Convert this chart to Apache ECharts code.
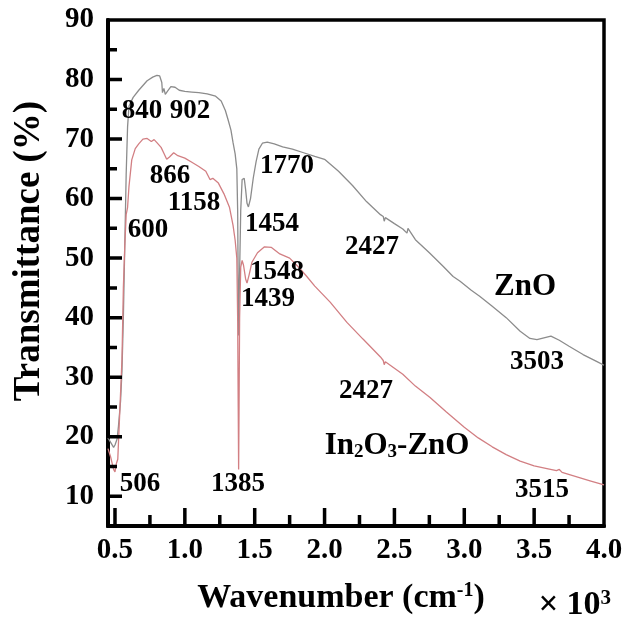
<!DOCTYPE html>
<html><head><meta charset="utf-8">
<script src="https://cdn.jsdelivr.net/npm/echarts@6/dist/echarts.min.js"></script>
<style>html,body{margin:0;padding:0;background:#fff}#c{width:628px;height:620px}</style>
</head><body><div id="c"></div>
<script>
// ---- tick values & labels ----
const xMajorTicks = [0.5, 1.0, 1.5, 2.0, 2.5, 3.0, 3.5, 4.0];
const xTickLabels = ['0.5', '1.0', '1.5', '2.0', '2.5', '3.0', '3.5', '4.0'];
const xMinorTicks = [0.75, 1.25, 1.75, 2.25, 2.75, 3.25, 3.75];
const yMajorTicks = [10, 20, 30, 40, 50, 60, 70, 80];
const yLabelTicks = [10, 20, 30, 40, 50, 60, 70, 80, 90];
const yTickLabels = ['10', '20', '30', '40', '50', '60', '70', '80', '90'];
const yMinorTicks = [15, 25, 35, 45, 55, 65, 75, 85];

// ---- series: [wavenumber (x10^3 cm^-1), transmittance %] ----
const znoData = [
  [0.45, 19.8], [0.47, 19.0], [0.49, 18.2], [0.50, 18.6], [0.515, 19.6], [0.525, 21.8], [0.54, 26],
  [0.55, 31], [0.56, 40], [0.57, 52], [0.58, 64], [0.59, 72], [0.60, 75.5], [0.63, 77], [0.67, 78.2],
  [0.70, 79], [0.73, 79.8], [0.77, 80.4], [0.80, 80.7], [0.82, 80.6], [0.835, 79.5], [0.84, 77.8],
  [0.85, 78.5], [0.86, 77.5], [0.875, 78], [0.90, 78.8], [0.93, 78.7], [0.96, 78.2], [1.0, 78],
  [1.05, 77.9], [1.10, 77.8], [1.16, 77.6], [1.22, 77.2], [1.26, 76.4], [1.29, 74.8], [1.31, 73.2],
  [1.33, 71.5], [1.345, 69.4], [1.36, 67.5], [1.372, 65], [1.378, 58], [1.382, 45], [1.385, 37],
  [1.39, 45], [1.40, 58], [1.41, 63.2], [1.425, 63.4], [1.435, 61.5], [1.445, 59.2], [1.455, 58.6],
  [1.47, 60], [1.49, 63.5], [1.51, 66.2], [1.53, 68.3], [1.555, 69.3], [1.59, 69.5], [1.64, 69.2],
  [1.70, 68.7], [1.77, 68.3], [1.85, 67.7], [1.93, 67.1], [2.0, 66.6], [2.1, 64.6], [2.2, 62.2],
  [2.3, 59.5], [2.4, 57.3], [2.42, 57.0], [2.427, 56.2], [2.435, 56.8], [2.5, 55.8], [2.56, 54.9],
  [2.59, 54.2], [2.597, 55.0], [2.65, 53.1], [2.75, 50.9], [2.85, 48.6], [2.92, 46.9], [2.97, 46.1],
  [3.05, 44.6], [3.11, 43.6], [3.2, 41.9], [3.3, 40.0], [3.4, 37.7], [3.47, 36.5], [3.52, 36.3],
  [3.57, 36.6], [3.62, 36.9], [3.68, 36.2], [3.75, 35.2], [3.85, 33.8], [3.95, 32.6], [4.0, 32.0]
];
const inznoData = [
  [0.45, 18], [0.47, 16.5], [0.49, 14.5], [0.50, 14.1], [0.51, 15.5], [0.52, 16.2], [0.535, 24.6],
  [0.55, 33], [0.56, 45], [0.57, 52], [0.58, 57.3], [0.59, 58.5], [0.60, 62], [0.62, 66.5],
  [0.645, 68.4], [0.67, 69.2], [0.70, 70], [0.73, 70.1], [0.76, 69.6], [0.78, 69.9], [0.80, 69.4],
  [0.83, 68.6], [0.85, 67.6], [0.87, 66.6], [0.89, 67], [0.92, 67.7], [0.95, 67.2], [1.0, 66.8],
  [1.05, 66.1], [1.10, 65.4], [1.15, 64.6], [1.18, 63.2], [1.2, 63.4], [1.24, 62.6], [1.28, 60.8],
  [1.32, 58.5], [1.345, 55.5], [1.36, 53], [1.372, 50], [1.378, 40], [1.382, 25], [1.385, 14.5],
  [1.388, 25], [1.392, 40], [1.40, 48.5], [1.41, 49.6], [1.42, 48.8], [1.435, 46.5], [1.445, 45.8],
  [1.46, 47.2], [1.48, 49.3], [1.52, 50.9], [1.57, 51.9], [1.62, 51.8], [1.68, 50.7], [1.75, 50.0],
  [1.81, 48.6], [1.87, 47], [1.93, 45.3], [2.04, 42.6], [2.16, 39.2], [2.275, 36.4], [2.40, 33.4],
  [2.42, 32.8], [2.427, 32.1], [2.435, 32.6], [2.56, 30.5], [2.65, 28.5], [2.755, 26.6], [2.87, 24.2],
  [3.0, 21.6], [3.1, 19.8], [3.2, 18.3], [3.3, 17.0], [3.4, 15.9], [3.5, 15.1], [3.6, 14.6],
  [3.66, 14.3], [3.68, 14.5], [3.7, 14.0], [3.8, 13.3], [3.9, 12.6], [4.0, 11.9]
];

// ---- peak annotations (text, anchor in data coords) ----
const peakTexts = ['840', '902', '866', '1158', '600', '1770', '1454', '1548', '1439', '506', '1385',
  '2427', '3503', '2427', '3515'];
const peakX = [0.693, 1.037, 0.894, 1.066, 0.736, 1.731, 1.624, 1.66, 1.595, 0.679, 1.381,
  2.34, 3.52, 2.297, 3.557];
const peakY = [74.7, 74.7, 63.8, 59.3, 54.8, 65.5, 55.8, 47.6, 43.2, 12.0, 12.0,
  51.9, 32.5, 27.6, 11.0];
const seriesNames = ['ZnO', 'In2O3-ZnO'];
const seriesLabelX = [3.435, 2.519];
const seriesLabelY = [45.2, 18.4];

const X_MIN = 0.45, X_MAX = 4.0, Y_MIN = 5, Y_MAX = 90;
const W = 628, H = 620;
const GRID = { left: 108, right: 24, top: 20, bottom: 93 };
const FONT = "'Liberation Serif', 'Times New Roman', serif";
const chart = echarts.init(document.getElementById('c'));

// inward tick marks as short line segments through the axes' scales
const xUnitsPerPx = (X_MAX - X_MIN) / (W - GRID.left - GRID.right);
const yUnitsPerPx = (Y_MAX - Y_MIN) / (H - GRID.top - GRID.bottom);
function tickLines(values, isX, lenPx) {
  const d = [];
  values.forEach(v => {
    if (isX) d.push([v, Y_MIN], [v, Y_MIN + lenPx * yUnitsPerPx], [v, '-']);
    else d.push([X_MIN, v], [X_MIN + lenPx * xUnitsPerPx, v], ['-', v]);
  });
  return {
    type: 'line', data: d, symbol: 'none', showSymbol: false, connectNulls: false,
    silent: true, z: 10, clip: false,
    lineStyle: { color: '#000', width: 3.5, cap: 'butt' }
  };
}

const richText = {
  b: { fontFamily: FONT, fontWeight: 'bold', fontSize: 31, fill: '#000', color: '#000' },
  s: { fontFamily: FONT, fontWeight: 'bold', fontSize: 19, fill: '#000', color: '#000', verticalAlign: 'bottom' }
};

function textSeries(texts, xs, ys, fontSize) {
  return {
    type: 'custom', coordinateSystem: 'cartesian2d', silent: true, clip: false, z: 30,
    data: texts.map((t, i) => [xs[i], ys[i], i]),
    encode: { x: 0, y: 1 },
    renderItem: (params, api) => {
      const p = api.coord([api.value(0), api.value(1)]);
      const t = texts[api.value(2)];
      const isRich = t === 'In2O3-ZnO';
      return {
        type: 'text', x: p[0], y: p[1],
        style: {
          text: isRich ? '{b|In}{s|2}{b|O}{s|3}{b|-ZnO}' : t,
          rich: isRich ? richText : undefined,
          fontFamily: FONT, fontWeight: 'bold', fontSize: fontSize,
          fill: '#000', align: 'center', verticalAlign: 'middle'
        }
      };
    }
  };
}

chart.setOption({
  animation: false,
  backgroundColor: '#fff',
  title: {
    text: '{x|×}{n|10}{sup|3}',
    right: 12, top: 583,
    textStyle: {
      rich: {
        x: { fontFamily: FONT, fontWeight: 'bold', fontSize: 35, color: '#000', padding: [0, 8, 0, 0] },
        n: { fontFamily: FONT, fontWeight: 'bold', fontSize: 34, color: '#000' },
        sup: { fontFamily: FONT, fontWeight: 'bold', fontSize: 21, color: '#000', verticalAlign: 'top' }
      }
    }
  },
  graphic: [{
    type: 'text', x: 29, y: 251, rotation: Math.PI / 2, silent: true,
    style: {
      text: 'Transmittance (%)', fontFamily: FONT, fontWeight: 'bold', fontSize: 37,
      fill: '#000', align: 'center', verticalAlign: 'middle'
    }
  }],
  grid: {
    left: GRID.left, right: GRID.right, top: GRID.top, bottom: GRID.bottom,
    show: true, borderColor: '#000', borderWidth: 3.5
  },
  xAxis: {
    type: 'value', min: X_MIN, max: X_MAX, position: 'bottom',
    axisLine: { show: true, onZero: false, lineStyle: { color: '#000', width: 4 } },
    axisTick: { show: false },
    axisLabel: {
      show: true, customValues: xMajorTicks, margin: 10,
      formatter: v => xTickLabels[xMajorTicks.indexOf(v)],
      fontFamily: FONT, fontWeight: 'bold', fontSize: 29, color: '#000'
    },
    splitLine: { show: false },
    name: 'Wavenumber (cm{sup|-1})', nameLocation: 'middle', nameGap: 55,
    nameTextStyle: {
      fontFamily: FONT, fontWeight: 'bold', fontSize: 34, color: '#000', padding: [0, 30, 0, 0],
      rich: { sup: { fontFamily: FONT, fontWeight: 'bold', fontSize: 20, color: '#000', verticalAlign: 'top' } }
    }
  },
  yAxis: {
    type: 'value', min: Y_MIN, max: Y_MAX, interval: 5, position: 'left',
    axisLine: { show: true, onZero: false, lineStyle: { color: '#000', width: 4 } },
    axisTick: { show: false },
    axisLabel: {
      show: true, margin: 14,
      formatter: v => { const i = yLabelTicks.indexOf(v); return i >= 0 ? yTickLabels[i] : ''; },
      fontFamily: FONT, fontWeight: 'bold', fontSize: 29, color: '#000'
    },
    splitLine: { show: false }
  },
  series: [
    {
      name: 'ZnO', type: 'line', data: znoData,
      showSymbol: false, symbol: 'none',
      lineStyle: { color: '#8c8c8c', width: 1.3 }, z: 2, silent: true
    },
    {
      name: 'In2O3-ZnO', type: 'line', data: inznoData,
      showSymbol: false, symbol: 'none',
      lineStyle: { color: '#d27f83', width: 1.3 }, z: 3, silent: true
    },
    tickLines(xMajorTicks.filter(v => v < X_MAX), true, 18),
    tickLines(xMinorTicks, true, 11),
    tickLines(yMajorTicks, false, 14),
    tickLines(yMinorTicks, false, 9),
    textSeries(peakTexts, peakX, peakY, 27),
    textSeries(seriesNames, seriesLabelX, seriesLabelY, 31)
  ]
});
</script>
</body></html>
